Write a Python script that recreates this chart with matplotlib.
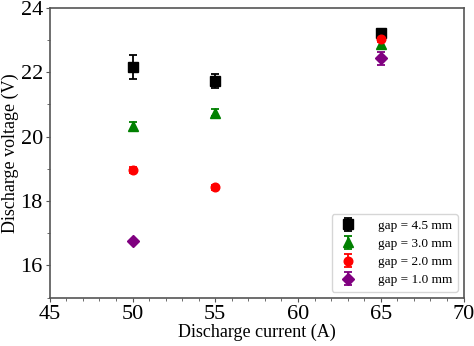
import matplotlib.pyplot as plt
from matplotlib.ticker import MultipleLocator

plt.rcParams['font.family'] = ['Liberation Serif', 'DejaVu Serif']

# data
x45 = [50, 55, 65]
v45 = [22.16, 21.72, 23.23]
e45 = [0.38, 0.22, 0.06]

x30 = [50, 55, 65]
v30 = [20.34, 20.75, 22.88]
e30 = [0.12, 0.12, 0.13]

x20 = [50, 55, 65]
v20 = [18.97, 18.43, 23.03]
e20 = [0.09, 0.08, 0.10]

x10 = [50, 65]
v10 = [16.76, 22.43]
e10 = [0.04, 0.19]

fig, ax = plt.subplots(figsize=(4.74, 3.46), dpi=100)

ax.errorbar(x45, v45, yerr=e45, fmt='s', color='black', ms=6.5, capsize=3, elinewidth=1.3, capthick=1.3, label='gap = 4.5 mm')
ax.errorbar(x30, v30, yerr=e30, fmt='^', color='green', ms=7, capsize=3, elinewidth=1.3, capthick=1.3, label='gap = 3.0 mm')
ax.errorbar(x20, v20, yerr=e20, fmt='o', color='red', ms=6.2, capsize=3, elinewidth=1.3, capthick=1.3, label='gap = 2.0 mm')
ax.errorbar(x10, v10, yerr=e10, fmt='D', color='purple', ms=6.5, capsize=3, elinewidth=1.3, capthick=1.3, label='gap = 1.0 mm')

ax.set_xlim(45, 70)
ax.set_ylim(15, 24)
ax.set_xticks([45, 50, 55, 60, 65, 70])
ax.set_yticks([16, 18, 20, 22, 24])
ax.xaxis.set_minor_locator(MultipleLocator(1))
ax.yaxis.set_minor_locator(MultipleLocator(1))
ax.tick_params(which='both', direction='out', top=False, right=False, labelsize=16, colors='#555555', labelcolor='black', pad=2)
ax.tick_params(which='major', length=3)
ax.tick_params(which='minor', length=2)
for s in ax.spines.values():
    s.set_color('#555555')
    s.set_linewidth(1.2)

ax.set_xlabel('Discharge current (A)', fontsize=13, labelpad=0)
ax.set_ylabel('Discharge voltage (V)', fontsize=13, labelpad=1)

ax.legend(loc='lower right', fontsize=9.5, handletextpad=1.5, labelspacing=0.45, borderaxespad=0.45, handlelength=1.6)

plt.subplots_adjust(left=0.105, right=0.978, top=0.977, bottom=0.14)
plt.savefig('out.png')
